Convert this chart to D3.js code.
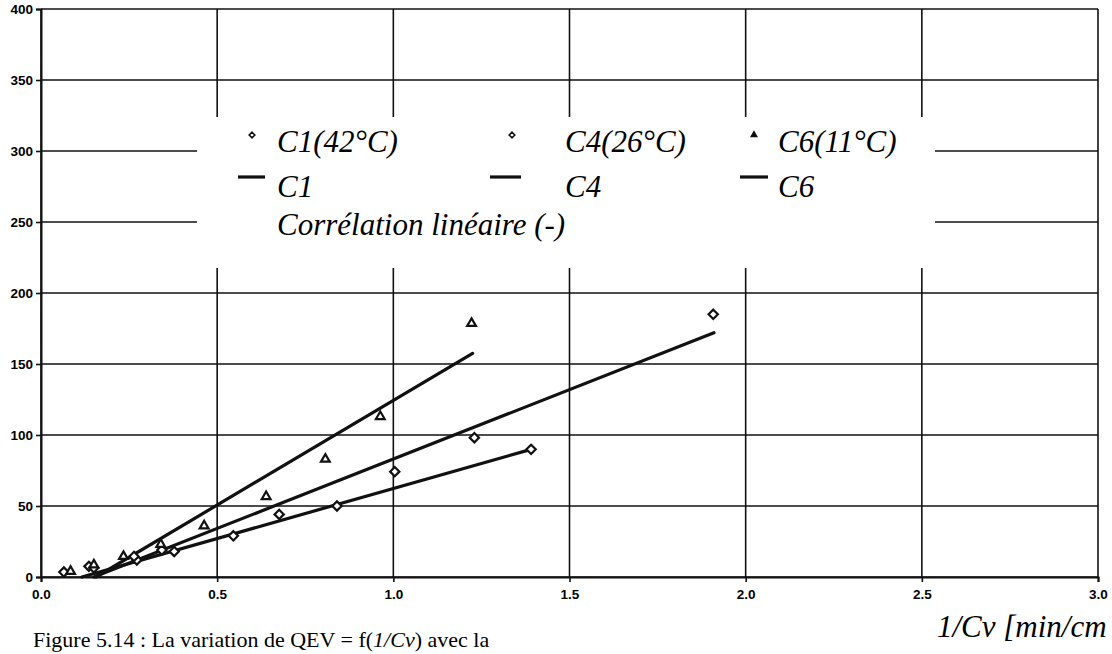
<!DOCTYPE html>
<html>
<head>
<meta charset="utf-8">
<script src="https://cdn.jsdelivr.net/npm/d3@7"></script>
<style>
  html, body { margin: 0; padding: 0; background: #fff; }
  svg { display: block; }
</style>
</head>
<body>
<svg id="chart" width="1112" height="654"></svg>
<script>
// ---- data ----
const xTicks = [0.0, 0.5, 1.0, 1.5, 2.0, 2.5, 3.0];
const yTicks = [0, 50, 100, 150, 200, 250, 300, 350, 400];

// C1 (42°C) diamonds
const c1X = [0.065, 0.136, 0.272, 0.378, 0.546, 0.840, 1.391];
const c1Y = [3.5, 7.5, 12.0, 18.0, 29.0, 50.0, 89.9];
// C4 (26°C) diamonds
const c4X = [0.150, 0.264, 0.343, 0.676, 1.004, 1.230, 1.908];
const c4Y = [6.5, 14.5, 19.0, 44.1, 74.2, 98.1, 185.0];
// C6 (11°C) triangles
const c6X = [0.084, 0.150, 0.234, 0.340, 0.463, 0.639, 0.807, 0.963, 1.222];
const c6Y = [4.0, 8.5, 14.5, 23.0, 36.0, 56.6, 83.0, 113.0, 178.6];

// linear trend lines (start, end)
const c1TrendX = [0.116, 1.391];
const c1TrendY = [0, 89.9];
const c4TrendX = [0.150, 1.910];
const c4TrendY = [0, 172.0];
const c6TrendX = [0.156, 1.225];
const c6TrendY = [0, 157.5];

const legendPoints = ["C1(42°C)", "C4(26°C)", "C6(11°C)"];
const legendLines = ["C1", "C4", "C6"];
const legendExtra = "Corrélation linéaire (-)";
const caption = ["Figure 5.14 : La variation de QEV = f(", "1/Cv", ") avec la"];
const xTitle = "1/Cv [min/cm";

// ---- layout ----
const svg = d3.select("#chart");
const L = 41, R = 1098, T = 9, B = 577;
const x = d3.scaleLinear().domain([0, 3]).range([L, R]);
const y = d3.scaleLinear().domain([0, 400]).range([B, T]);
const ink = "#111";

svg.append("rect").attr("width", 1112).attr("height", 654).attr("fill", "#fff");

// grid
const grid = svg.append("g");
grid.selectAll("line.h").data(yTicks).join("line").attr("class", "h")
  .attr("x1", L).attr("x2", R).attr("y1", d => y(d)).attr("y2", d => y(d))
  .attr("stroke", ink).attr("stroke-width", 1.6);
grid.selectAll("line.v").data(xTicks).join("line").attr("class", "v")
  .attr("y1", T).attr("y2", B).attr("x1", d => x(d)).attr("x2", d => x(d))
  .attr("stroke", ink).attr("stroke-width", 1.6);

// axes
const xAxis = d3.axisBottom(x).tickValues(xTicks).tickFormat(d3.format(".1f")).tickSize(5).tickPadding(7);
const yAxis = d3.axisLeft(y).tickValues(yTicks).tickFormat(d3.format("d")).tickSize(5).tickPadding(3);
const gx = svg.append("g").attr("transform", `translate(0,${B})`).call(xAxis);
const gy = svg.append("g").attr("transform", `translate(${L},0)`).call(yAxis);
[gx, gy].forEach(g => {
  g.attr("font-size", null).attr("font-family", null);
  g.select(".domain").attr("stroke", ink).attr("stroke-width", 2);
  g.selectAll(".tick line").attr("stroke", ink).attr("stroke-width", 1.6);
  g.selectAll(".tick text").attr("fill", "#000")
    .style("font-family", "'Liberation Sans', Arial, sans-serif")
    .style("font-weight", "bold").style("font-size", "13.5px");
});

// trend lines
const line = d3.line().x(d => x(d[0])).y(d => y(d[1]));
const trends = [
  d3.zip(c1TrendX, c1TrendY),
  d3.zip(c4TrendX, c4TrendY),
  d3.zip(c6TrendX, c6TrendY)
];
svg.append("g").selectAll("path").data(trends).join("path")
  .attr("d", line).attr("fill", "none").attr("stroke", ink).attr("stroke-width", 3.2)
  .attr("stroke-linecap", "round");

// markers
const diamond = d3.symbol().type(d3.symbolDiamond2).size(55);
const tri = d3.symbol().type(d3.symbolTriangle2).size(55);
const diamondPts = d3.zip(c1X, c1Y).concat(d3.zip(c4X, c4Y));
svg.append("g").selectAll("path").data(diamondPts).join("path")
  .attr("transform", d => `translate(${x(d[0])},${y(d[1])})`)
  .attr("d", diamond).attr("fill", "#fff").attr("stroke", ink).attr("stroke-width", 2.2);
svg.append("g").selectAll("path").data(d3.zip(c6X, c6Y)).join("path")
  .attr("transform", d => `translate(${x(d[0])},${y(d[1])})`)
  .attr("d", tri).attr("fill", "#fff").attr("stroke", ink).attr("stroke-width", 2.2);

// legend
const lg = svg.append("g");
lg.append("rect").attr("x", 197).attr("y", 117).attr("width", 738).attr("height", 151).attr("fill", "#fff");
const colText = [277, 565, 778];
const colMark = [252, 512, 754];
const colLine = [[238, 265], [490, 521], [740, 768]];
const serif = "'Liberation Serif', 'Times New Roman', serif";
legendPoints.forEach((t, i) => {
  lg.append("text").attr("x", colText[i]).attr("y", 152).text(t)
    .style("font-family", serif).style("font-style", "italic").style("font-size", "31px").attr("fill", "#000");
  lg.append("path").attr("transform", `translate(${colMark[i]},135)`)
    .attr("d", (i < 2 ? d3.symbol().type(d3.symbolDiamond2).size(20) : d3.symbol().type(d3.symbolTriangle2).size(20))())
    .attr("fill", i < 2 ? "#fff" : "#000").attr("stroke", ink).attr("stroke-width", 1.6);
});
legendLines.forEach((t, i) => {
  lg.append("text").attr("x", colText[i]).attr("y", 197).text(t)
    .style("font-family", serif).style("font-style", "italic").style("font-size", "31px").attr("fill", "#000");
  lg.append("line").attr("x1", colLine[i][0]).attr("x2", colLine[i][1]).attr("y1", 177).attr("y2", 177)
    .attr("stroke", ink).attr("stroke-width", 3.2);
});
lg.append("text").attr("x", colText[0]).attr("y", 235).text(legendExtra)
  .style("font-family", serif).style("font-style", "italic").style("font-size", "31px").attr("fill", "#000");

// caption & axis title
const cap = svg.append("text").attr("x", 33).attr("y", 647)
  .style("font-family", serif).style("font-size", "22px").attr("fill", "#000");
cap.append("tspan").text(caption[0]);
cap.append("tspan").style("font-style", "italic").text(caption[1]);
cap.append("tspan").text(caption[2]);

svg.append("text").attr("x", 937).attr("y", 637).text(xTitle)
  .style("font-family", serif).style("font-style", "italic").style("font-size", "31px").attr("fill", "#000");
</script>
</body>
</html>
